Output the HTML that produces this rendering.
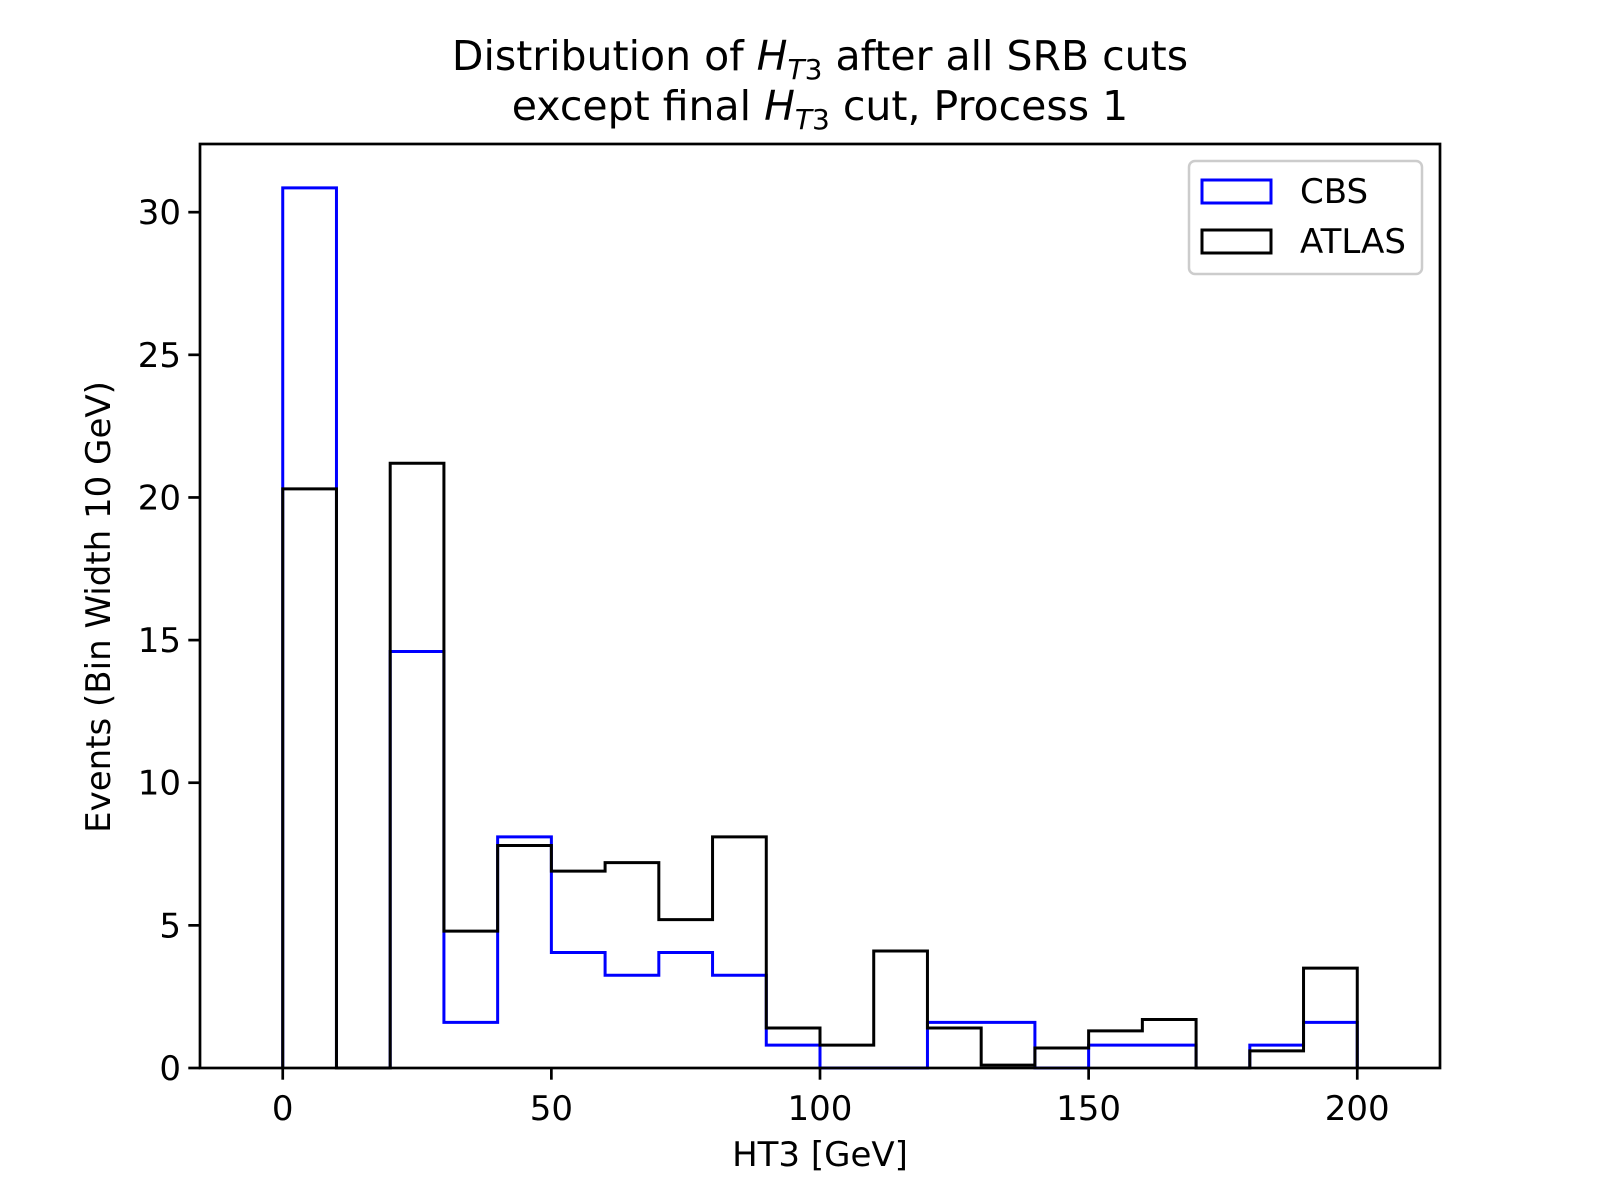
<!DOCTYPE html>
<html><head><meta charset="utf-8"><style>
html,body{margin:0;padding:0;background:#fff;}
svg{display:block;font-family:"DejaVu Sans","Liberation Sans",sans-serif;}
</style></head><body>
<svg id="chart" width="1600" height="1200" viewBox="0 0 1600 1200" xmlns="http://www.w3.org/2000/svg">
<rect width="1600" height="1200" fill="#fff"/>
<text x="820" y="70" font-size="41" text-anchor="middle">Distribution of <tspan font-style="italic">H</tspan><tspan font-style="italic" font-size="28" dy="9">T</tspan><tspan font-size="28">3</tspan><tspan dy="-9"> after all SRB cuts</tspan></text>
<text x="820" y="120" font-size="41" text-anchor="middle">except final <tspan font-style="italic">H</tspan><tspan font-style="italic" font-size="28" dy="9">T</tspan><tspan font-size="28">3</tspan><tspan dy="-9"> cut, Process 1</tspan></text>
<g id="plot"></g>
<text x="820" y="1166" font-size="34" text-anchor="middle">HT3 [GeV]</text>
<text transform="translate(110,607) rotate(-90)" font-size="34" text-anchor="middle">Events (Bin Width 10 GeV)</text>
<g>
<rect x="1189" y="161" width="233" height="113" rx="6" fill="#fff" stroke="#ccc" stroke-width="2.5"/>
<rect x="1202" y="180" width="69" height="23" fill="none" stroke="#0000ff" stroke-width="3"/>
<text x="1300" y="203" font-size="34">CBS</text>
<rect x="1202" y="230" width="69" height="23" fill="none" stroke="#000" stroke-width="3"/>
<text x="1300" y="253" font-size="34">ATLAS</text>
</g>
</svg>
<script>
const binEdges = [0,10,20,30,40,50,60,70,80,90,100,110,120,130,140,150,160,170,180,190,200];
const cbsValues = [30.85,0,14.6,1.6,8.1,4.05,3.25,4.05,3.25,0.8,0,0,1.6,1.6,0,0.8,0.8,0,0.8,1.6];
const atlasValues = [20.3,0,21.2,4.8,7.8,6.9,7.2,5.2,8.1,1.4,0.8,4.1,1.4,0.1,0.7,1.3,1.7,0,0.6,3.5];
const xTicks = [0,50,100,150,200];
const yTicks = [0,5,10,15,20,25,30];

const L=200,R=1440,T=144,B=1068;
const xMin=-15.4,xMax=215.4,yMin=0,yMax=32.39;
const xs=v=>L+(v-xMin)/(xMax-xMin)*(R-L);
const ys=v=>B-(v-yMin)/(yMax-yMin)*(B-T);
const NS='http://www.w3.org/2000/svg';
const g=document.getElementById('plot');
function mk(tag,attrs){const e=document.createElementNS(NS,tag);for(const k in attrs)e.setAttribute(k,attrs[k]);return e;}

function stepPath(vals){
  let d='M'+xs(binEdges[0])+','+ys(0);
  for(let i=0;i<vals.length;i++){
    d+=' L'+xs(binEdges[i])+','+ys(vals[i])+' L'+xs(binEdges[i+1])+','+ys(vals[i]);
  }
  d+=' L'+xs(binEdges[binEdges.length-1])+','+ys(0);
  return d;
}
const p1=mk('path',{d:stepPath(cbsValues),fill:'none',stroke:'#0000ff','stroke-width':3,'stroke-linejoin':'miter'});


g.appendChild(p1);
const p2=mk('path',{d:stepPath(atlasValues),fill:'none',stroke:'#000','stroke-width':3,'stroke-linejoin':'miter'});


g.appendChild(p2);

const frame=mk('rect',{x:L,y:T,width:R-L,height:B-T,fill:'none',stroke:'#000','stroke-width':2.7});


g.appendChild(frame);

xTicks.forEach(v=>{
  const t=mk('line',{x1:xs(v),x2:xs(v),y1:B,y2:B+11.7,stroke:'#000','stroke-width':2.7});
  
  
  g.appendChild(t);
  const tx=mk('text',{x:xs(v),y:B+52,'font-size':34,'text-anchor':'middle'});
  
  
  tx.textContent=v;g.appendChild(tx);
});
yTicks.forEach(v=>{
  const t=mk('line',{x1:L-11.7,x2:L,y1:ys(v),y2:ys(v),stroke:'#000','stroke-width':2.7});
  
  
  g.appendChild(t);
  const tx=mk('text',{x:L-19,y:ys(v)+12,'font-size':34,'text-anchor':'end'});
  
  
  tx.textContent=v;g.appendChild(tx);
});
</script>
</body></html>
